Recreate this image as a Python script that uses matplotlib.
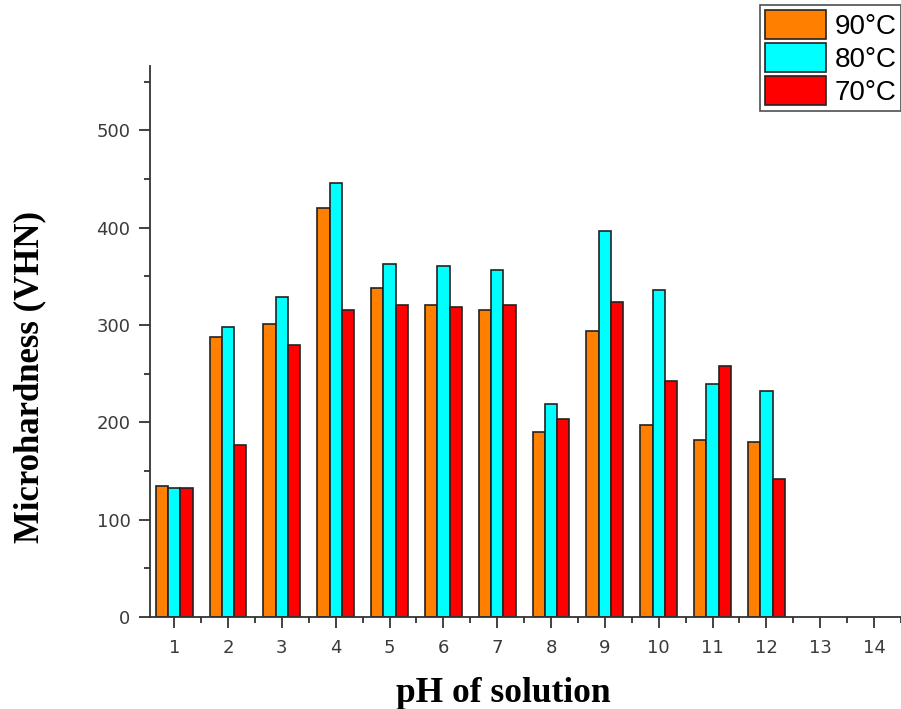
import numpy as np
import matplotlib
matplotlib.use("Agg")
import matplotlib.pyplot as plt
from matplotlib.ticker import MultipleLocator

ph = [1, 2, 3, 4, 5, 6, 7, 8, 9, 10, 11, 12, 13, 14]
hv_90 = [135, 288, 301, 420, 338, 320, 315, 190, 294, 197, 182, 180, np.nan, np.nan]
hv_80 = [132, 298, 329, 446, 363, 361, 356, 219, 396, 336, 239, 232, np.nan, np.nan]
hv_70 = [132, 177, 279, 315, 320, 318, 320, 203, 324, 242, 258, 142, np.nan, np.nan]
series_labels = ["90°C", "80°C", "70°C"]
series_colors = ["#FF8000", "#00FFFF", "#FF0000"]

fig = plt.figure(figsize=(9.01, 7.09), dpi=100)
ax = fig.add_axes([150 / 901, 92 / 709, 1 - 150 / 901, (617 - 66) / 709])

x = np.array(ph, dtype=float)
w = 0.228
handles = []
for i, (vals, lab, col) in enumerate(zip([hv_90, hv_80, hv_70], series_labels, series_colors)):
    h = ax.bar(x + (i - 1) * w, vals, width=w, color=col, edgecolor="#222222",
               linewidth=1.2, label=lab, zorder=2)
    handles.append(h)

ax.set_xlim(0.55, 14.5)
ax.set_ylim(0, 566)

for s in ["top", "right"]:
    ax.spines[s].set_visible(False)
for s in ["left", "bottom"]:
    ax.spines[s].set_color("#333333")
    ax.spines[s].set_linewidth(1.3)

ax.set_xticks(ph)
ax.set_xticklabels([str(p) for p in ph])
ax.xaxis.set_minor_locator(MultipleLocator(0.5))
ax.yaxis.set_major_locator(MultipleLocator(100))
ax.yaxis.set_minor_locator(MultipleLocator(50))
ax.tick_params(axis="both", which="major", direction="out", length=8, width=1.3,
               color="#333333", labelcolor="#3a3a3a", labelsize=13)
ax.tick_params(axis="x", which="major", pad=8)
ax.tick_params(axis="y", which="major", pad=6)
ax.tick_params(axis="both", which="minor", direction="out", length=4, width=1.3,
               color="#333333")
for t in ax.get_xticklabels() + ax.get_yticklabels():
    t.set_fontfamily("DejaVu Sans")

fig.text(30 / 901, 1 - 377 / 709, "Microhardness (VHN)", rotation=90,
         ha="center", va="center", fontfamily="Liberation Serif",
         fontweight="bold", fontsize=25)
fig.text(503 / 901, 1 - 693 / 709, "pH of solution", ha="center", va="center",
         fontfamily="Liberation Serif", fontweight="bold", fontsize=25.5)

leg = fig.legend(handles=handles, labels=series_labels, loc="upper left",
                 bbox_to_anchor=(760 / 901, 1 - 5 / 709), bbox_transform=fig.transFigure,
                 prop={"family": "Liberation Sans", "size": 20},
                 handlelength=2.2, handleheight=1.25, handletextpad=0.3,
                 labelspacing=0.1, borderpad=0.18, borderaxespad=0,
                 fancybox=False, frameon=True, edgecolor="#222222")
leg.get_frame().set_linewidth(1.2)

fig.savefig("out.png", dpi=100)
